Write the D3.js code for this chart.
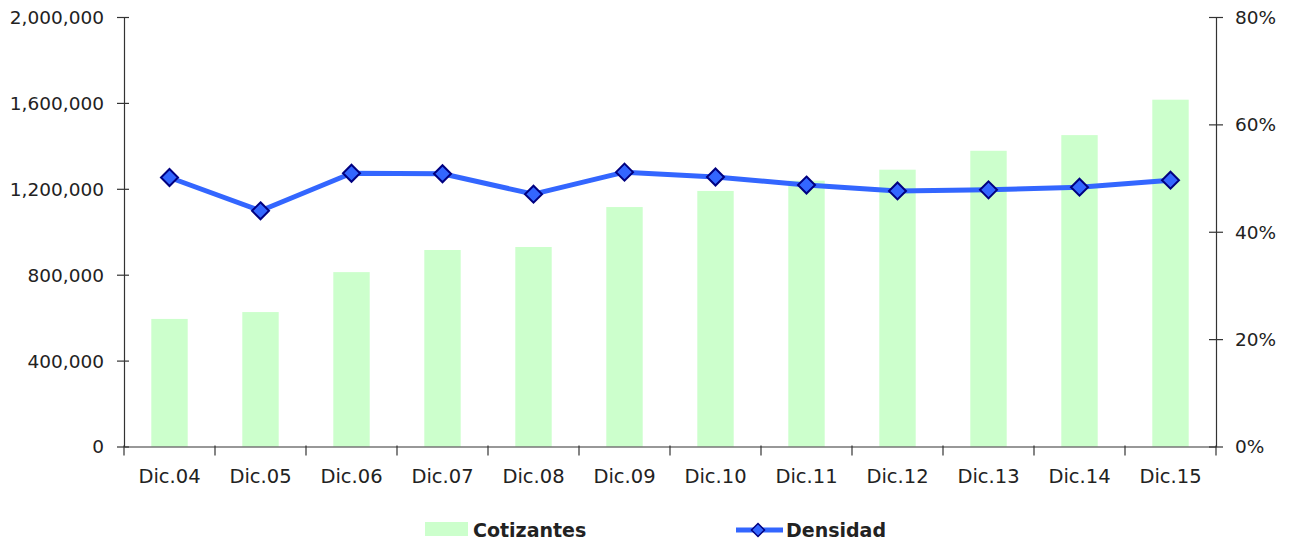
<!DOCTYPE html>
<html>
<head>
<meta charset="utf-8">
<script src="https://cdn.jsdelivr.net/npm/d3@7"></script>
<style>
  body { margin: 0; background: #fff; }
  svg text { font-family: "DejaVu Sans", sans-serif; fill: #222; }
</style>
</head>
<body>
<svg id="chart" width="1293" height="545"></svg>
<script>
const categories = ['Dic.04','Dic.05','Dic.06','Dic.07','Dic.08','Dic.09','Dic.10','Dic.11','Dic.12','Dic.13','Dic.14','Dic.15']
const cotizantes = [594000, 626000, 812000, 915000, 929000, 1115000, 1190000, 1238000, 1289000, 1377000, 1450000, 1615000]
const densidad = [0.501, 0.439, 0.509, 0.508, 0.470, 0.511, 0.502, 0.487, 0.476, 0.478, 0.483, 0.496]
const leftTicks = [0, 400000, 800000, 1200000, 1600000, 2000000]
const rightTicks = [0, 0.2, 0.4, 0.6, 0.8]

const svg = d3.select('#chart')

const plotL = 124, plotR = 1216, plotT = 17, plotB = 446.5

const x = d3.scaleBand()
  .domain(categories)
  .range([plotL, plotR])
  .padding(0)

const yL = d3.scaleLinear().domain([0, 2000000]).range([plotB, plotT])
const yR = d3.scaleLinear().domain([0, 0.8]).range([plotB, plotT])

const barW = x.bandwidth() * 0.4

// bars
svg.append('g')
  .selectAll('rect')
  .data(cotizantes)
  .join('rect')
  .attr('x', (d, i) => x(categories[i]) + (x.bandwidth() - barW) / 2)
  .attr('y', d => yL(d))
  .attr('width', barW)
  .attr('height', d => plotB - yL(d))
  .attr('fill', '#ccffcc')

// axes
const axisColor = '#333'

const gL = svg.append('g')
  .attr('transform', `translate(${plotL},0)`)
  .call(d3.axisLeft(yL).tickValues(leftTicks).tickSize(0).tickFormat(d3.format(',')))
gL.select('.domain').attr('stroke', axisColor).attr('stroke-width', 1.2)
gL.selectAll('.tick line').remove()
gL.selectAll('.tick').append('line')
  .attr('x1', -7).attr('x2', 5).attr('stroke', axisColor).attr('stroke-width', 1.2)
gL.selectAll('.tick text')
  .attr('x', -20).attr('dy', '0.35em')
  .style('font-size', '18.5px').attr('fill', '#222')

const gR = svg.append('g')
  .attr('transform', `translate(${plotR},0)`)
  .call(d3.axisRight(yR).tickValues(rightTicks).tickSize(0).tickFormat(d3.format('.0%')))
gR.select('.domain').attr('stroke', axisColor).attr('stroke-width', 1.2)
gR.selectAll('.tick line').remove()
gR.selectAll('.tick').append('line')
  .attr('x1', -7).attr('x2', 7).attr('stroke', axisColor).attr('stroke-width', 1.2)
gR.selectAll('.tick text')
  .attr('x', 19).attr('dy', '0.35em')
  .style('font-size', '18.5px').attr('fill', '#222')

const gX = svg.append('g')
  .attr('transform', `translate(0,${plotB})`)
  .call(d3.axisBottom(x).tickSize(0))
gX.select('.domain').attr('stroke', axisColor).attr('stroke-width', 1.2)
gX.selectAll('.tick text')
  .attr('y', 36).attr('dy', 0)
  .style('font-size', '19.5px').attr('fill', '#222')
// boundary ticks between categories
svg.append('g')
  .selectAll('line')
  .data(d3.range(categories.length + 1))
  .join('line')
  .attr('x1', i => plotL + i * x.step())
  .attr('x2', i => plotL + i * x.step())
  .attr('y1', plotB - 1)
  .attr('y2', plotB + 9)
  .attr('stroke', axisColor)
  .attr('stroke-width', 1.2)

// line
const cx = i => x(categories[i]) + x.bandwidth() / 2
const line = d3.line()
  .x((d, i) => cx(i))
  .y(d => yR(d))

svg.append('path')
  .datum(densidad)
  .attr('d', line)
  .attr('fill', 'none')
  .attr('stroke', '#3366ff')
  .attr('stroke-width', 5)
  .attr('stroke-linejoin', 'round')

const diamond = r => `M0,${-r}L${r},0L0,${r}L${-r},0Z`

svg.append('g')
  .selectAll('path')
  .data(densidad)
  .join('path')
  .attr('transform', (d, i) => `translate(${cx(i)},${yR(d)})`)
  .attr('d', diamond(8.5))
  .attr('fill', '#3366ff')
  .attr('stroke', '#000080')
  .attr('stroke-width', 2)

// legend
const leg = svg.append('g')
leg.append('rect')
  .attr('x', 425).attr('y', 522).attr('width', 43).attr('height', 14)
  .attr('fill', '#ccffcc')
leg.append('text')
  .attr('x', 473).attr('y', 537)
  .style('font-size', '19px').style('font-weight', 'bold')
  .attr('fill', '#111')
  .text('Cotizantes')

leg.append('line')
  .attr('x1', 736).attr('x2', 783).attr('y1', 530).attr('y2', 530)
  .attr('stroke', '#3366ff').attr('stroke-width', 5)
leg.append('path')
  .attr('transform', 'translate(758,530)')
  .attr('d', diamond(6.5))
  .attr('fill', '#3366ff')
  .attr('stroke', '#000080')
  .attr('stroke-width', 1.5)
leg.append('text')
  .attr('x', 786).attr('y', 537)
  .style('font-size', '19px').style('font-weight', 'bold')
  .attr('fill', '#111')
  .text('Densidad')
</script>
</body>
</html>
